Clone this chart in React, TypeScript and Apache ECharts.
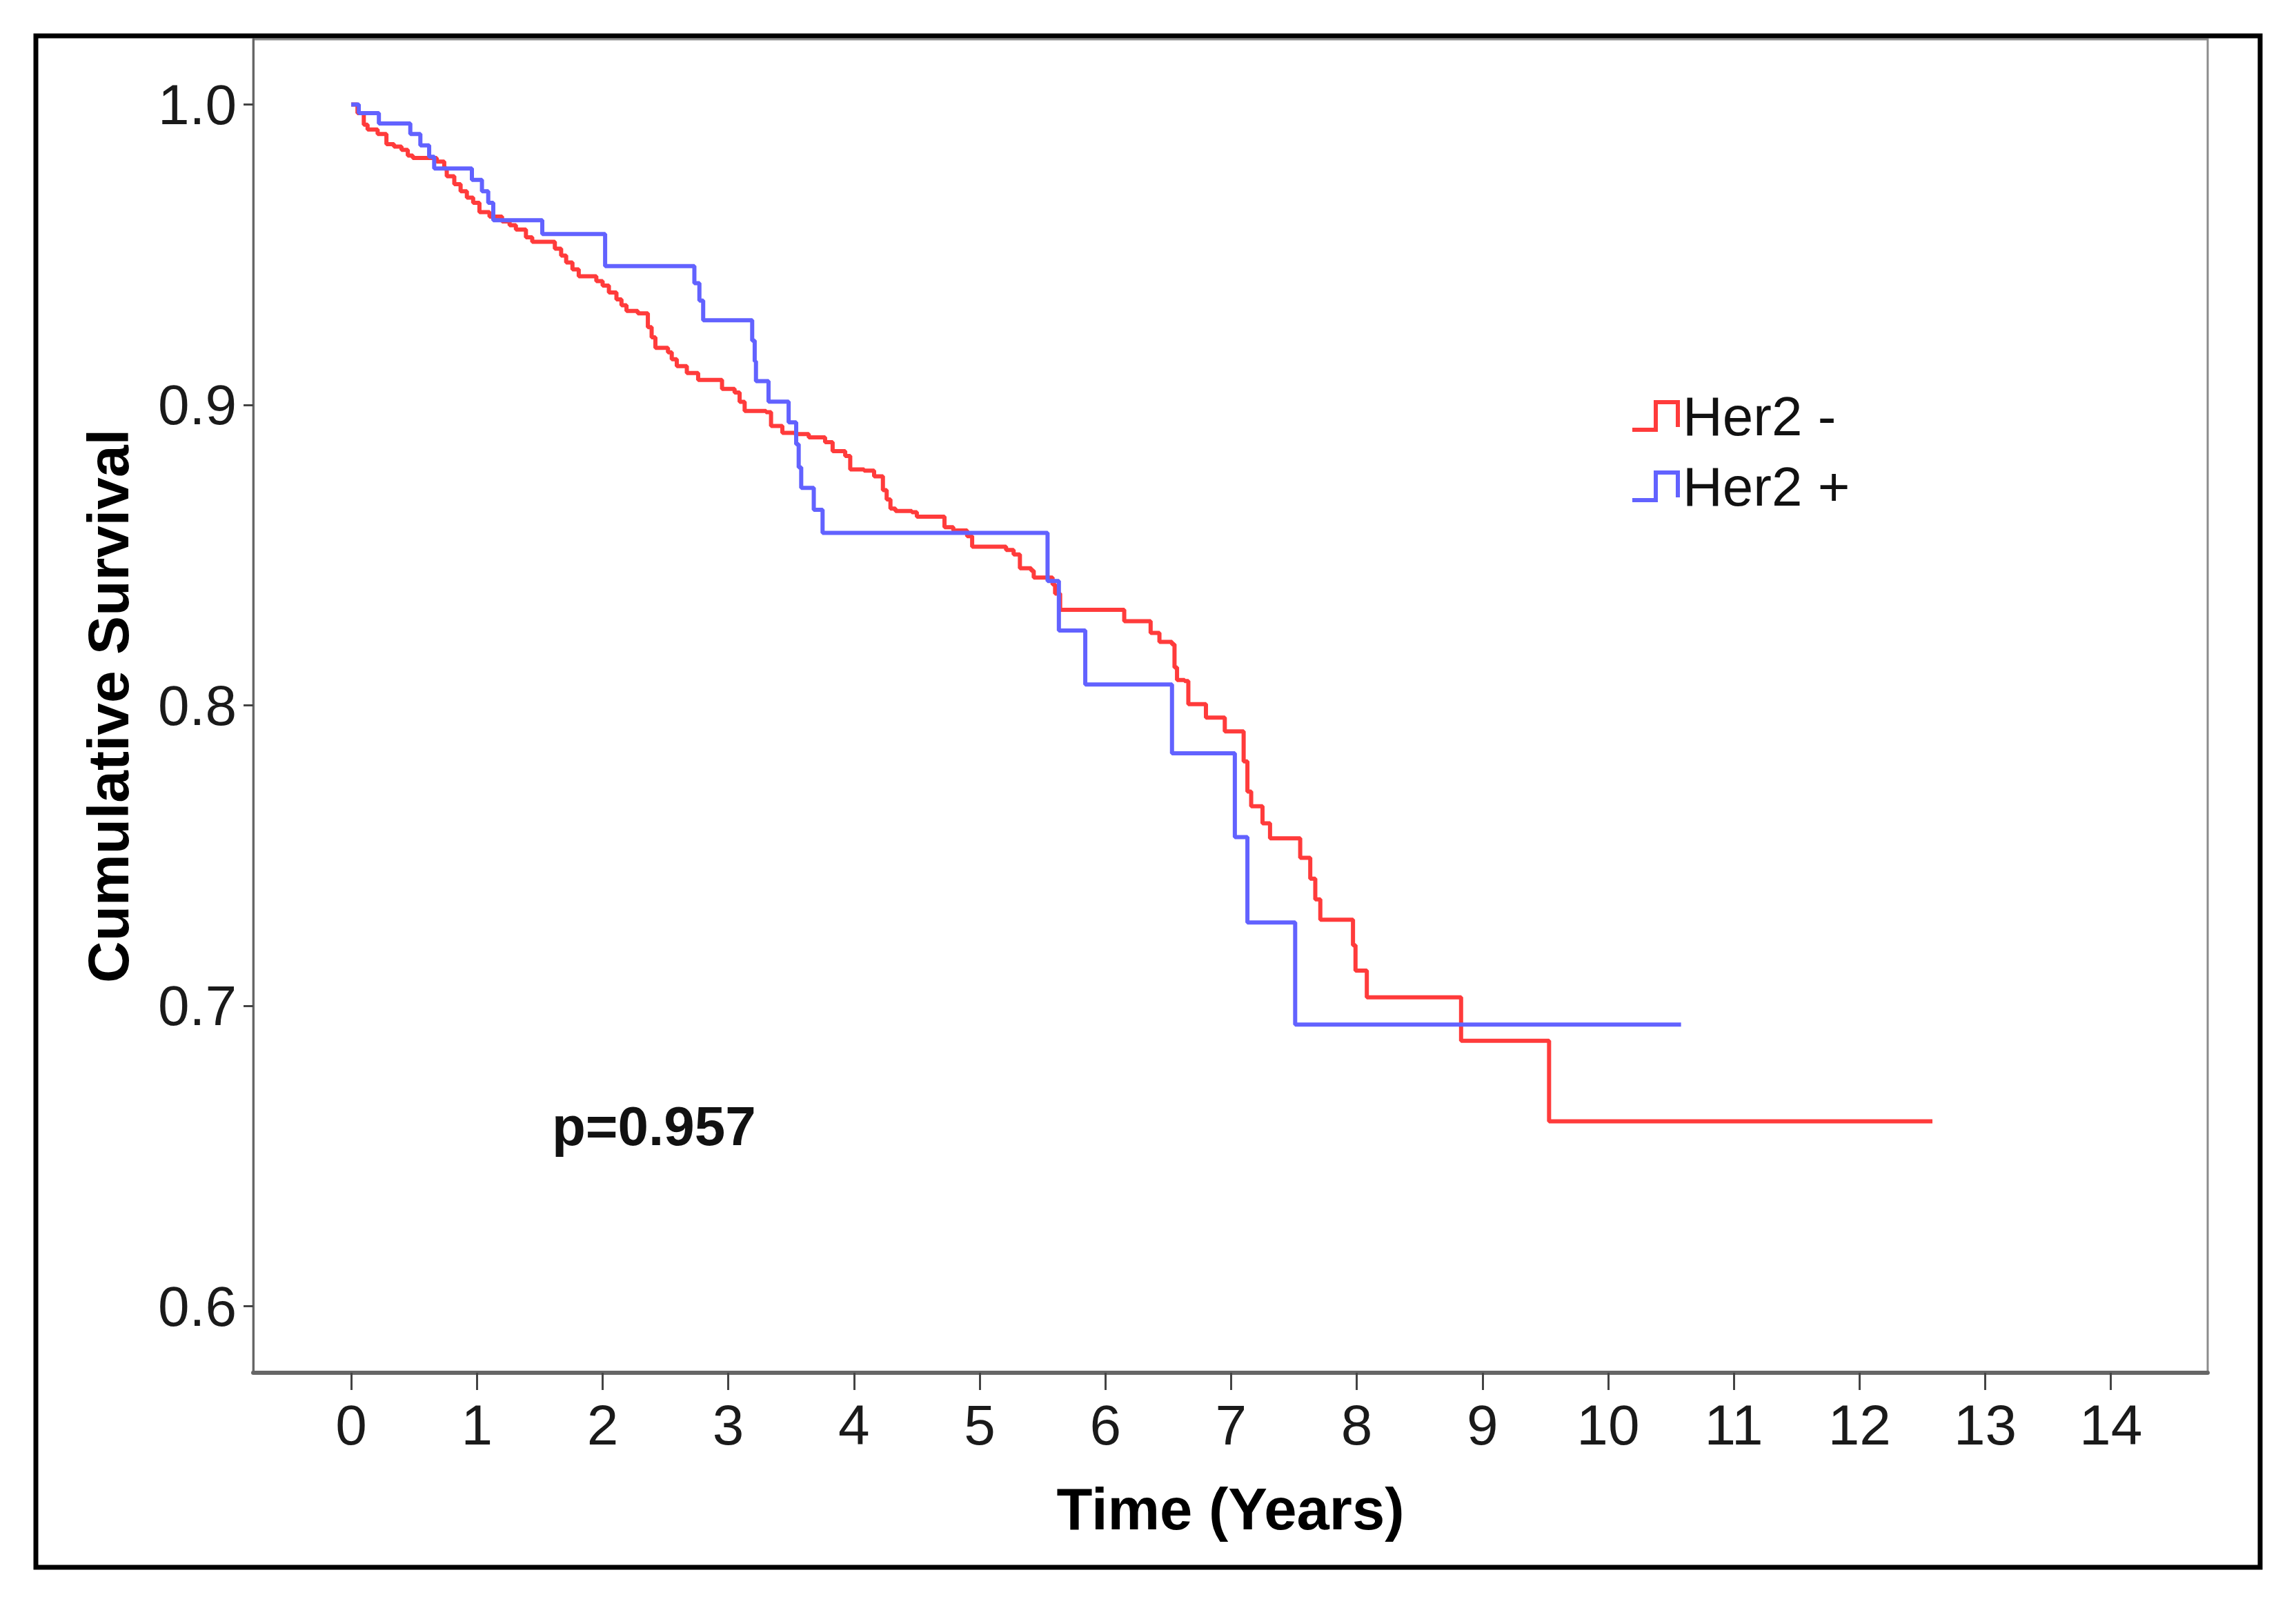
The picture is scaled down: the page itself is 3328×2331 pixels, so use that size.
import React, { useEffect, useRef } from "react";
import * as echarts from "echarts";

// ---------- data ----------
const xTicks = [0, 1, 2, 3, 4, 5, 6, 7, 8, 9, 10, 11, 12, 13, 14];
const yTicks = [0.6, 0.7, 0.8, 0.9, 1.0];
const seriesNames = ["Her2 -", "Her2 +"];
const seriesColors = ["#ff3b3b", "#6262ff"];
const pValueText = "p=0.957";
const xTitle = "Time (Years)";
const yTitle = "Cumulative Survival";

// Her2 - : event times (years) and survival after each drop
const her2NegTime = [
  0, 0.05, 0.1, 0.13, 0.21, 0.28, 0.34, 0.4, 0.45, 0.49, 0.68, 0.74, 0.76, 0.82, 0.87, 0.92, 0.97,
  1.02, 1.1, 1.2, 1.26, 1.31, 1.39, 1.44, 1.62, 1.67, 1.71, 1.76, 1.81, 1.95, 2.0, 2.05, 2.11,
  2.15, 2.19, 2.28, 2.36, 2.39, 2.42, 2.52, 2.55, 2.59, 2.67, 2.76, 2.95, 3.05, 3.09, 3.13, 3.3,
  3.34, 3.43, 3.53, 3.64, 3.77, 3.83, 3.93, 3.97, 4.08, 4.16, 4.23, 4.26, 4.29, 4.33, 4.46, 4.5,
  4.72, 4.79, 4.9, 4.94, 5.21, 5.27, 5.32, 5.41, 5.43, 5.58, 5.6, 5.64, 6.15, 6.36, 6.43, 6.53,
  6.55, 6.57, 6.63, 6.66, 6.8, 6.95, 7.1, 7.13, 7.16, 7.25, 7.31, 7.55, 7.63, 7.67, 7.71, 7.97,
  7.99, 8.08, 8.83, 9.53, 12.58,
];
const her2NegSurv = [
  1.0, 0.9971, 0.9933, 0.9917, 0.9902, 0.9868, 0.986, 0.9849, 0.983, 0.9822, 0.981, 0.9787,
  0.9761, 0.9735, 0.9711, 0.969, 0.9673, 0.9642, 0.9627, 0.9611, 0.9598, 0.9584, 0.9558, 0.9543,
  0.952, 0.9497, 0.9474, 0.9451, 0.9428, 0.9412, 0.9397, 0.9374, 0.9351, 0.9332, 0.9313, 0.9305,
  0.9259, 0.9225, 0.919, 0.9175, 0.9152, 0.9129, 0.9106, 0.9083, 0.9053, 0.9041, 0.901, 0.898,
  0.8976, 0.893, 0.8907, 0.8903, 0.8892, 0.8876, 0.8846, 0.883, 0.8785, 0.8781, 0.8762, 0.8716,
  0.8685, 0.8655, 0.8647, 0.8643, 0.8628, 0.8593, 0.8582, 0.8563, 0.8528, 0.8517, 0.8502, 0.8456,
  0.8448, 0.8425, 0.8402, 0.8372, 0.8318, 0.828, 0.8241, 0.8211, 0.8203, 0.8126, 0.8084, 0.8081,
  0.8004, 0.7959, 0.7913, 0.7813, 0.7713, 0.7664, 0.7607, 0.7557, 0.7492, 0.7423, 0.7354, 0.7286,
  0.7201, 0.7117, 0.7028, 0.6883, 0.6615, 0.6615,
];

// Her2 + : event times (years) and survival after each drop
const her2PosTime = [
  0, 0.06, 0.22, 0.47, 0.55, 0.62, 0.66, 0.96, 1.04, 1.09, 1.13, 1.52, 2.02, 2.73, 2.77, 2.8,
  3.19, 3.21, 3.22, 3.32, 3.48, 3.54, 3.56, 3.58, 3.68, 3.75, 5.54, 5.63, 5.84, 6.53, 7.03, 7.13,
  7.51, 10.58,
];
const her2PosSurv = [
  1.0, 0.9971, 0.9937, 0.9902, 0.9864, 0.9826, 0.9787, 0.9749, 0.9711, 0.9673, 0.9615, 0.9569,
  0.9462, 0.9405, 0.9347, 0.9282, 0.9214, 0.9145, 0.9079, 0.9011, 0.8942, 0.8869, 0.8792,
  0.8724, 0.8651, 0.8574, 0.8414, 0.8249, 0.8069, 0.784, 0.7561, 0.7277, 0.6937, 0.6937,
];

const FONT = '"Liberation Sans", Arial, sans-serif';

export default function App() {
  const ref = useRef<HTMLDivElement>(null);

  useEffect(() => {
    if (!ref.current) return;
    const chart = echarts.init(ref.current, null, { renderer: "svg" });

    const toPairs = (t: number[], s: number[]) => t.map((v, i) => [v, s[i]]);
    const stepIcon = "path://M0,40 L34,40 L34,0 L66,0 L66,36";

    chart.setOption({
      animation: false,
      backgroundColor: "#ffffff",
      grid: {
        left: 367,
        top: 57,
        width: 2833,
        height: 1933,
        show: true,
        borderColor: "#8c8c8c",
        borderWidth: 3,
        containLabel: false,
        outerBoundsMode: "none",
      },
      xAxis: {
        type: "value",
        min: -0.78,
        max: 14.77,
        name: xTitle,
        nameLocation: "middle",
        nameGap: 155,
        nameMoveOverlap: false,
        nameTextStyle: { fontFamily: FONT, fontSize: 85, fontWeight: "bold", color: "#000" },
        axisLine: { show: true, onZero: false, lineStyle: { color: "#666", width: 6 } },
        axisTick: {
          show: true,
          inside: false,
          length: 25,
          customValues: xTicks,
          lineStyle: { color: "#444", width: 3 },
        },
        axisLabel: {
          show: true,
          margin: 34,
          customValues: xTicks,
          fontFamily: FONT,
          fontSize: 82,
          color: "#1a1a1a",
          formatter: (v: number) => String(Math.round(v)),
        },
        splitLine: { show: false },
      },
      yAxis: {
        type: "value",
        min: 0.5778,
        max: 1.0217,
        name: yTitle,
        nameLocation: "middle",
        nameGap: 168,
        nameMoveOverlap: false,
        nameTextStyle: { fontFamily: FONT, fontSize: 84, fontWeight: "bold", color: "#000" },
        axisLine: { show: true, onZero: false, lineStyle: { color: "#666", width: 3 } },
        axisTick: {
          show: true,
          inside: false,
          length: 14,
          customValues: yTicks,
          lineStyle: { color: "#444", width: 3 },
        },
        axisLabel: {
          show: true,
          margin: 24,
          customValues: yTicks,
          fontFamily: FONT,
          fontSize: 82,
          color: "#1a1a1a",
          formatter: (v: number) => v.toFixed(1),
        },
        splitLine: { show: false },
      },
      legend: {
        show: true,
        orient: "vertical",
        left: 2358,
        top: 558,
        itemWidth: 70,
        itemHeight: 40,
        itemGap: 22,
        selectedMode: false,
        icon: stepIcon,
        textStyle: { fontFamily: FONT, fontSize: 80, color: "#111" },
        data: seriesNames.map((n, i) => ({
          name: n,
          icon: stepIcon,
          itemStyle: { color: "rgba(0,0,0,0)", borderColor: seriesColors[i], borderWidth: 6 },
        })),
      },
      graphic: [
        {
          type: "rect",
          shape: { x: 52, y: 52, width: 3224, height: 2220 },
          style: { fill: "none", stroke: "#000", lineWidth: 7 },
          silent: true,
          z: 10,
        },
        {
          type: "text",
          left: 800,
          top: 1592,
          style: { text: pValueText, font: `bold 80px ${FONT}`, fill: "#111" },
          silent: true,
        },
      ],
      series: [
        {
          name: seriesNames[0],
          type: "line",
          step: "end",
          symbol: "none",
          showSymbol: false,
          data: toPairs(her2NegTime, her2NegSurv),
          lineStyle: { color: seriesColors[0], width: 6 },
          itemStyle: { color: seriesColors[0] },
          z: 3,
        },
        {
          name: seriesNames[1],
          type: "line",
          step: "end",
          symbol: "none",
          showSymbol: false,
          data: toPairs(her2PosTime, her2PosSurv),
          lineStyle: { color: seriesColors[1], width: 6 },
          itemStyle: { color: seriesColors[1] },
          z: 4,
        },
      ],
    });

    return () => chart.dispose();
  }, []);

  return (
    <div
      ref={ref}
      style={{ position: "fixed", left: 0, top: 0, width: 3328, height: 2331, background: "#fff" }}
    />
  );
}
